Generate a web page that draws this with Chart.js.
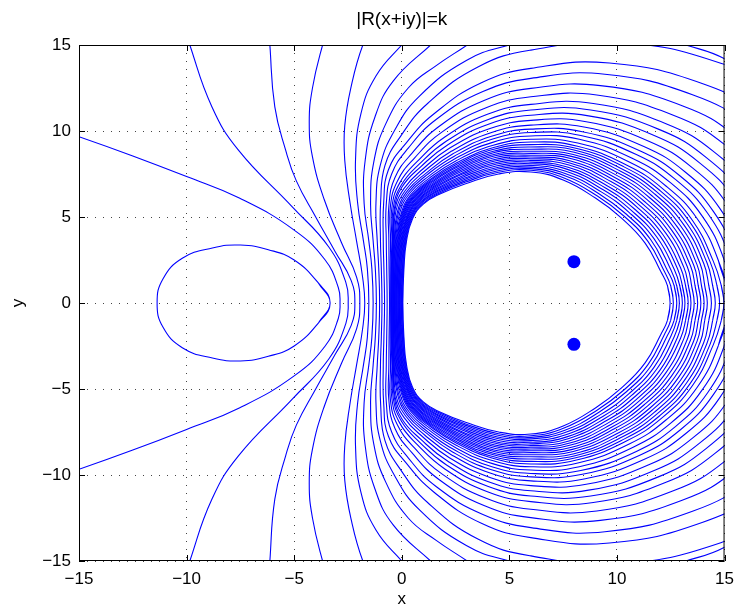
<!DOCTYPE html>
<html>
<head>
<meta charset="utf-8">
<script src="https://cdn.jsdelivr.net/npm/chart.js@4"></script>
<style>
  html, body { margin: 0; padding: 0; background: #fff; }
</style>
</head>
<body>
<canvas id="grafico" width="742" height="610"></canvas>
<script>
// Valores (so a metade de cima; a de baixo e o espelho em y)
const titulo = '|R(x+iy)|=k';
const rotuloX = 'x';
const rotuloY = 'y';
const marcasEixo = [-15, -10, -5, 0, 5, 10, 15];

// curvas fechadas em volta da regiao branca (de dentro para fora)
const curvasInternas = [
  [[0.05,0],[0.1,2],[0.22,3.6],[0.5,4.9],[1.0,5.75],[1.8,6.35],[3,6.95],[4.5,7.5],[6,7.62],[7.5,7.15],[9,6.1],[10.2,4.95],[11.3,3.5],[12.05,1.8],[12.35,1],[12.47,0]],
  [[0.03,0],[0.08,2],[0.19,3.6],[0.47,4.92],[0.97,5.78],[1.77,6.4],[2.97,7.03],[4.49,7.6],[6,7.72],[7.54,7.27],[9.09,6.22],[10.32,5.06],[11.44,3.58],[12.2,1.84],[12.5,1],[12.62,0]],
  [[0,0],[0.05,2],[0.16,3.6],[0.44,4.94],[0.93,5.82],[1.74,6.45],[2.94,7.1],[4.47,7.69],[6,7.81],[7.58,7.4],[9.18,6.34],[10.44,5.16],[11.58,3.66],[12.35,1.88],[12.66,1],[12.78,0]],
  [[-0.02,0],[0.03,2],[0.14,3.6],[0.41,4.95],[0.9,5.85],[1.71,6.51],[2.92,7.18],[4.46,7.79],[6,7.9],[7.62,7.52],[9.27,6.46],[10.56,5.27],[11.72,3.74],[12.51,1.92],[12.78,1],[12.9,0]],
  [[-0.04,0],[0,2],[0.11,3.6],[0.38,4.97],[0.87,5.88],[1.68,6.56],[2.89,7.25],[4.44,7.88],[6,8.0],[7.66,7.64],[9.36,6.58],[10.68,5.37],[11.86,3.82],[12.66,1.96],[12.92,1],[13.04,0]],
  [[-0.07,0],[-0.03,2],[0.08,3.6],[0.35,4.99],[0.84,5.92],[1.65,6.61],[2.86,7.33],[4.43,7.98],[6,8.1],[7.7,7.77],[9.45,6.7],[10.8,5.48],[12.0,3.9],[12.81,2.0],[13.04,1],[13.16,0]],
  [[-0.09,0],[-0.05,2],[0.05,3.6],[0.32,5.01],[0.8,5.95],[1.62,6.66],[2.83,7.4],[4.41,8.08],[6,8.19],[7.73,7.89],[9.54,6.82],[10.92,5.59],[12.13,3.98],[12.96,2.03],[13.19,1],[13.31,0]],
  [[-0.11,0],[-0.08,2],[0.02,3.6],[0.29,5.03],[0.77,5.98],[1.59,6.71],[2.8,7.48],[4.4,8.17],[6,8.29],[7.77,8.02],[9.63,6.94],[11.04,5.69],[12.27,4.06],[13.11,2.07],[13.32,1],[13.44,0]],
  [[-0.14,0],[-0.1,2],[0,3.6],[0.26,5.04],[0.74,6.01],[1.56,6.77],[2.78,7.55],[4.38,8.27],[6,8.39],[7.81,8.14],[9.72,7.06],[11.16,5.8],[12.41,4.14],[13.27,2.11],[13.47,1],[13.59,0]],
  [[-0.16,0],[-0.13,2],[-0.03,3.6],[0.23,5.06],[0.7,6.05],[1.53,6.82],[2.75,7.63],[4.37,8.36],[6,8.49],[7.85,8.26],[9.81,7.18],[11.28,5.9],[12.55,4.22],[13.42,2.15],[13.63,1],[13.75,0]],
  [[-0.18,0],[-0.15,2],[-0.06,3.6],[0.19,5.08],[0.67,6.08],[1.5,6.87],[2.72,7.7],[4.35,8.46],[6,8.59],[7.89,8.39],[9.9,7.3],[11.4,6.01],[12.69,4.3],[13.57,2.19],[13.78,1],[13.9,0]],
  [[-0.21,0],[-0.18,2],[-0.09,3.6],[0.16,5.1],[0.64,6.11],[1.47,6.92],[2.69,7.78],[4.34,8.56],[6,8.7],[7.93,8.51],[9.99,7.42],[11.52,6.12],[12.83,4.38],[13.72,2.23],[13.93,1],[14.05,0]],
  [[-0.23,0],[-0.2,2],[-0.12,3.6],[0.13,5.12],[0.6,6.15],[1.44,6.97],[2.66,7.85],[4.33,8.65],[6,8.82],[7.97,8.63],[10.08,7.54],[11.64,6.22],[12.97,4.46],[13.87,2.27],[14.08,1],[14.2,0]],
  [[-0.25,0],[-0.23,2],[-0.14,3.6],[0.1,5.13],[0.57,6.18],[1.41,7.03],[2.64,7.93],[4.31,8.75],[6,8.94],[8.01,8.76],[10.17,7.66],[11.76,6.33],[13.11,4.54],[14.03,2.31],[14.27,1],[14.39,0]],
  [[-0.28,0],[-0.25,2],[-0.17,3.6],[0.07,5.15],[0.54,6.21],[1.38,7.08],[2.61,8.0],[4.3,8.84],[6,9.07],[8.05,8.88],[10.26,7.78],[11.88,6.43],[13.25,4.62],[14.18,2.35],[14.45,1],[14.57,0]],
  [[-0.3,0],[-0.28,2],[-0.2,3.6],[0.04,5.17],[0.51,6.25],[1.35,7.13],[2.58,8.08],[4.28,8.94],[6,9.21],[8.09,9.0],[10.35,7.9],[12.0,6.54],[13.39,4.7],[14.33,2.39],[14.65,1],[14.77,0]],
  [[-0.32,0],[-0.3,2],[-0.23,3.6],[0.01,5.19],[0.47,6.28],[1.32,7.18],[2.55,8.15],[4.27,9.04],[6,9.36],[8.12,9.13],[10.44,8.02],[12.12,6.65],[13.52,4.78],[14.48,2.42],[14.85,1],[14.97,0]]
];

// curvas que saem pela borda direita
const curvasDireita = [
  [[-0.34,0],[-0.33,2],[-0.26,3.6],[-0.03,5.21],[0.43,6.32],[1.28,7.26],[2.51,8.26],[4.25,9.17],[6,9.52],[8.18,9.3],[10.57,8.2],[12.29,6.79],[13.73,4.9],[14.71,2.48],[15.19,0]],
  [[-0.36,0],[-0.355,2],[-0.29,3.6],[-0.09,5.25],[0.37,6.38],[1.23,7.35],[2.47,8.39],[4.22,9.34],[6,9.71],[8.25,9.52],[10.73,8.4],[12.5,6.98],[13.97,5.04],[14.97,2.55],[15.46,0]],
  [[-0.38,0],[-0.38,2],[-0.32,3.6],[-0.15,5.28],[0.31,6.44],[1.17,7.45],[2.42,8.52],[4.19,9.52],[6,9.91],[8.32,9.74],[10.9,8.63],[12.73,7.17],[14.23,5.19],[15.25,2.63],[15.74,0]],
  [[-0.4,0],[-0.4,2],[-0.35,3.6],[-0.2,5.31],[0.25,6.5],[1.12,7.54],[2.36,8.66],[4.17,9.7],[6,10.11],[8.39,9.96],[11.06,8.85],[12.95,7.37],[14.48,5.33],[15.53,2.7],[16.03,0]],
  [[-0.42,0],[-0.42,2],[-0.37,3.6],[-0.27,5.35],[0.18,6.57],[1.05,7.66],[2.3,8.82],[4.14,9.9],[6,10.34],[8.47,10.23],[11.25,9.1],[13.2,7.59],[14.78,5.5],[15.85,2.78],[16.36,0]],
  [[-0.44,0],[-0.44,2],[-0.39,3.6],[-0.32,5.4],[0.1,6.65],[0.98,7.79],[2.23,9.01],[4.1,10.14],[6,10.62],[8.57,10.54],[11.48,9.41],[13.51,7.86],[15.14,5.71],[16.24,2.88],[16.76,0]],
  [[-0.46,0],[-0.46,2],[-0.41,3.6],[-0.35,5.45],[0.01,6.74],[0.89,7.93],[2.16,9.22],[4.06,10.41],[6,10.92],[8.68,10.88],[11.73,9.74],[13.84,8.15],[15.52,5.93],[16.66,2.99],[17.19,0]],
  [[-0.48,0],[-0.48,2],[-0.43,3.6],[-0.4,5.5],[-0.02,6.86],[0.81,8.07],[2.08,9.42],[4.02,10.67],[6,11.22],[8.78,11.22],[11.98,10.08],[14.17,8.44],[15.9,6.15],[17.07,3.1],[17.62,0]],
  [[-0.5,0],[-0.5,2],[-0.46,3.6],[-0.46,5.55],[-0.1,6.97],[0.72,8.23],[2.0,9.65],[3.98,10.97],[6,11.55],[8.9,11.6],[12.25,10.44],[14.54,8.76],[16.33,6.39],[17.54,3.22],[18.09,0]],
  [[-0.53,0],[-0.54,2],[-0.52,3.6],[-0.53,5.6],[-0.2,7.1],[0.6,8.44],[1.88,9.95],[3.92,11.35],[6,11.99],[9.06,12.09],[12.62,10.92],[15.02,9.19],[16.89,6.71],[18.15,3.37],[18.72,0]],
  [[-0.57,0],[-0.59,2],[-0.6,3.6],[-0.6,5.65],[-0.32,7.28],[0.47,8.7],[1.76,10.29],[3.85,11.79],[6,12.48],[9.23,12.64],[13.03,11.47],[15.56,9.66],[17.51,7.07],[18.84,3.55],[19.42,0]],
  [[-0.68,0],[-0.7,2],[-0.72,3.6],[-0.72,5.75],[-0.47,7.5],[0.3,9.0],[1.61,10.68],[3.77,12.29],[6,13.06],[9.44,13.3],[13.51,12.11],[16.2,10.23],[18.26,7.5],[19.65,3.76],[20.25,0]],
  [[-0.8,0],[-0.83,2],[-0.86,3.6],[-0.84,5.85],[-0.62,7.75],[0.2,9.3],[1.5,11.0],[3.7,12.81],[6,13.64],[9.65,13.95],[13.99,12.75],[16.84,10.79],[19.0,7.93],[20.46,3.97],[21.08,0]],
  [[-0.92,0],[-0.95,2],[-0.99,3.6],[-0.98,5.95],[-0.78,8.0],[-0.05,9.7],[1.2,11.6],[3.56,13.74],[6,14.7],[10.03,15.16],[14.86,13.92],[18.01,11.82],[20.36,8.71],[21.94,4.35],[22.59,0]]
];

// curvas abertas que saem pelo topo / borda esquerda
const curvasTopo = [
  [[-1.03,0],[-1.07,2],[-1.14,3.6],[-1.2,5.8],[-1.0,8.0],[-0.35,10.0],[0.8,12.0],[3.0,14.1],[5.0,15.0],[8,15.9],[11,15.8],[13.2,15],[15,14.2],[17,12.5]],
  [[-1.18,0],[-1.23,2],[-1.33,3.6],[-1.45,5.8],[-1.3,8.2],[-0.75,10.4],[0.3,12.5],[1.6,13.8],[3.04,15],[4.5,16.3]],
  [[-1.33,0],[-1.39,2],[-1.53,3.6],[-1.75,5.8],[-1.7,8.3],[-1.25,10.8],[-0.4,12.9],[1.34,15],[2.5,16.3]],
  [[-1.53,0],[-1.6,2],[-1.78,3.6],[-2.05,5.8],[-2.15,8.3],[-1.9,11.0],[-1.2,13.2],[0,15],[1,16.3]],
  [[-1.72,0],[-1.82,1.5],[-2.1,3.6],[-2.4,5.8],[-2.65,8.3],[-2.65,10.3],[-2.35,12.6],[-1.81,15],[-1.2,16.5]],
  [[-1.95,0],[-2.1,1.5],[-2.8,3.5],[-3.6,6],[-4.15,8.5],[-4.3,10.5],[-4.15,12.5],[-3.68,15],[-3.3,16.5]],
  [[-2.18,0],[-2.35,1.3],[-3.1,3.0],[-4.0,5.0],[-4.9,7.1],[-5.4,8.9],[-5.9,11.4],[-6.13,15],[-6.2,16.5]],
  [[-2.49,0],[-2.6,1.2],[-3.4,3.27],[-5.1,5.6],[-7.6,8.9],[-8.82,11.4],[-9.85,15],[-10.2,16.5]],
  [[-2.87,0],[-2.95,0.9],[-3.56,2.5],[-5,4.24],[-7.55,6.1],[-10,7.35],[-12.5,8.55],[-15,9.67],[-17,10.5]]
];

// oval fechado a esquerda
const oval = [[-11.37,0],[-11.1,1.4],[-10.2,2.6],[-8.8,3.2],[-7.5,3.37],[-6.2,3.1],[-5.0,2.5],[-3.87,1.15],[-3.33,0]];

// os dois polos (pontos cheios)
const polos = [[8, 2.4], [8, -2.4]];

const azul = '#0000ff';
const fonte = { family: "'Liberation Sans', Arial, sans-serif", size: 17 };

// monta o caminho completo: espelho de baixo + metade de cima
function montarCaminho(metade) {
  const cima = metade.map(([x, y]) => ({x, y}));
  const baixo = metade.slice(1).reverse().map(([x, y]) => ({x, y: -y}));
  let caminho = [...baixo, ...cima];
  const ultimo = metade[metade.length - 1];
  if (ultimo[1] === 0) {
    // curva fechada: sobrepoe um trecho para nao ficar bico na emenda
    const penultimo = metade[metade.length - 2];
    caminho = [{x: penultimo[0], y: penultimo[1]}, ...caminho, {x: penultimo[0], y: -penultimo[1]}];
  }
  return caminho;
}

function linha(metade) {
  return {
    data: montarCaminho(metade),
    showLine: true,
    borderColor: azul,
    borderWidth: 1.1,
    pointRadius: 0,
    tension: 0.45,
    fill: false
  };
}

const datasets = [
  ...curvasInternas.map(linha),
  ...curvasDireita.map(linha),
  ...curvasTopo.map(linha),
  linha(oval),
  {
    data: polos.map(([x, y]) => ({x, y})),
    showLine: false,
    pointRadius: 6.5,
    pointBackgroundColor: azul,
    pointBorderWidth: 0
  }
];

function rotuloMarca(valor) {
  return valor < 0 ? '\u2212' + Math.abs(valor) : String(valor);
}

// moldura preta com marcas para dentro (estilo matlab)
const moldura = {
  id: 'moldura',
  afterDatasetsDraw(chart) {
    const {ctx, chartArea: a, scales} = chart;
    ctx.save();
    ctx.strokeStyle = '#000';
    ctx.lineWidth = 1;
    ctx.strokeRect(a.left + 0.5, a.top + 0.5, a.right - a.left - 1, a.bottom - a.top - 1);
    ctx.beginPath();
    marcasEixo.forEach(v => {
      const px = Math.round(scales.x.getPixelForValue(v)) + 0.5;
      ctx.moveTo(px, a.bottom); ctx.lineTo(px, a.bottom - 6);
      ctx.moveTo(px, a.top); ctx.lineTo(px, a.top + 6);
      const py = Math.round(scales.y.getPixelForValue(v)) + 0.5;
      ctx.moveTo(a.left, py); ctx.lineTo(a.left + 6, py);
      ctx.moveTo(a.right, py); ctx.lineTo(a.right - 6, py);
    });
    ctx.stroke();
    ctx.restore();
  }
};

const ctx = document.getElementById('grafico').getContext('2d');
new Chart(ctx, {
  type: 'scatter',
  data: { datasets: datasets },
  options: {
    responsive: false,
    animation: false,
    devicePixelRatio: 1,
    layout: { padding: { left: 0, right: 11, top: 0, bottom: 0 } },
    elements: { line: { capBezierPoints: false } },
    plugins: {
      legend: { display: false },
      tooltip: { enabled: false },
      title: {
        display: true,
        text: titulo,
        fullSize: false,
        color: '#000',
        font: { ...fonte, size: 19, weight: 'normal' },
        padding: { top: 8.5, bottom: 13.7 }
      }
    },
    scales: {
      x: {
        type: 'linear',
        min: -15,
        max: 15,
        afterFit: s => { s.height = 49; },
        ticks: { stepSize: 5, color: '#000', font: fonte, padding: 8, callback: rotuloMarca, maxRotation: 0 },
        grid: { color: '#444', drawTicks: false },
        border: { display: false, dash: [1, 7] },
        title: { display: true, text: rotuloX, color: '#000', font: fonte, padding: { top: 0, bottom: 0 } }
      },
      y: {
        type: 'linear',
        min: -15,
        max: 15,
        afterFit: s => { s.width = 79; },
        ticks: { stepSize: 5, color: '#000', font: fonte, padding: 8, callback: rotuloMarca },
        grid: { color: '#444', drawTicks: false },
        border: { display: false, dash: [1, 7] },
        title: { display: true, text: rotuloY, color: '#000', font: fonte, padding: { top: 8, bottom: 0 } }
      }
    }
  },
  plugins: [moldura]
});
</script>
</body>
</html>
